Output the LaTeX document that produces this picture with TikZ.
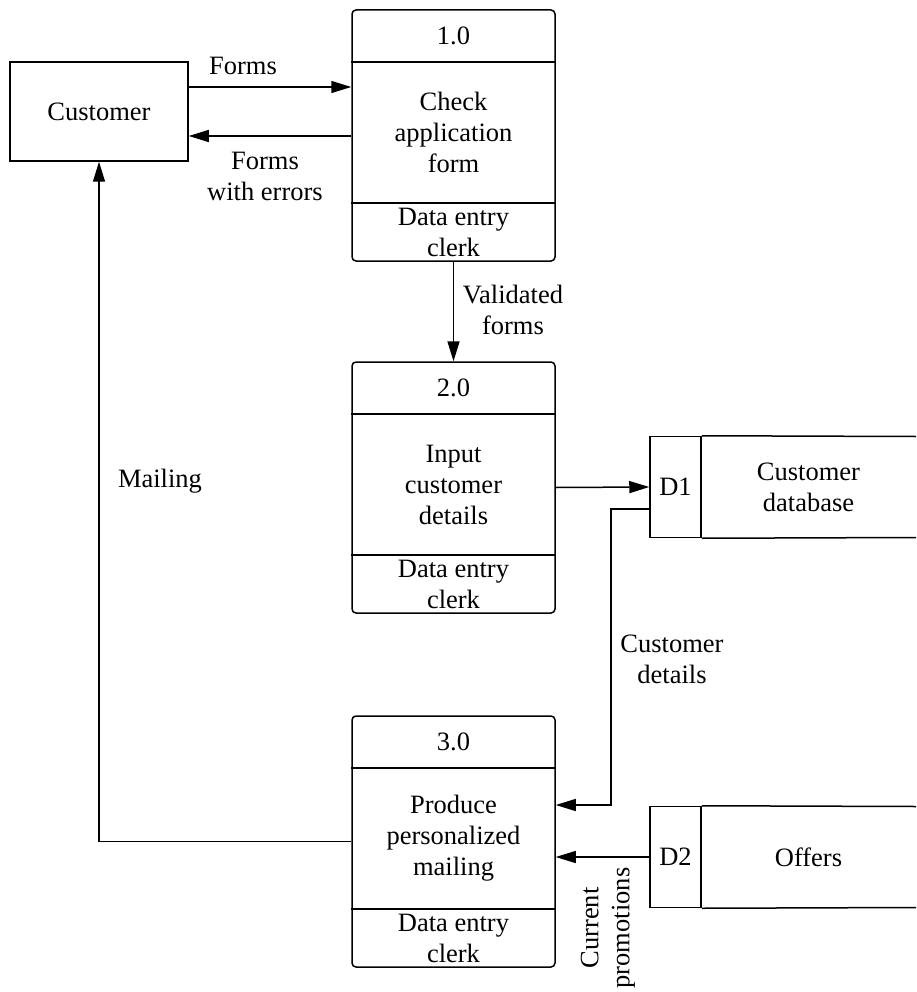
\documentclass[tikz,border=0pt]{standalone}
\usepackage{fontspec}
\setmainfont{Liberation Serif}
\usetikzlibrary{arrows.meta}
\tikzset{
  proc/.style={draw, rounded corners=4pt, minimum width=203pt, minimum height=251pt},
  storeid/.style={draw, minimum width=51pt, minimum height=101pt},
  ent/.style={draw, minimum width=178pt, minimum height=99pt},
  txt/.style={align=center, inner sep=0pt},
  flow/.style={-{Triangle[length=20pt,width=12pt]}},
}
\begin{document}
\begin{tikzpicture}[x=1pt, y=-1pt, line width=1.5pt, font=\fontsize{26.5}{31}\selectfont]
\useasboundingbox (0,0) rectangle (916,992);
% customer
\node[ent] (cust) at (99,111.5) {Customer};
% process 1.0
\node[proc] (p1) at (453.5,135.5) {};
\draw (p1.west |- 0,62) -- (p1.east |- 0,62);
\draw (p1.west |- 0,203) -- (p1.east |- 0,203);
\node[txt] (p1id) at (453.5,36) {1.0};
\node[txt] (p1name) at (453.5,132.5) {Check\\application\\form};
\node[txt] (p1who) at (453.5,232) {Data entry\\clerk};
% process 2.0
\node[proc] (p2) at (453.5,487.5) {};
\draw (p2.west |- 0,414) -- (p2.east |- 0,414);
\draw (p2.west |- 0,555) -- (p2.east |- 0,555);
\node[txt] (p2id) at (453.5,388) {2.0};
\node[txt] (p2name) at (453.5,484.5) {Input\\customer\\details};
\node[txt] (p2who) at (453.5,584) {Data entry\\clerk};
% process 3.0
\node[proc] (p3) at (453.5,841.5) {};
\draw (p3.west |- 0,768) -- (p3.east |- 0,768);
\draw (p3.west |- 0,909) -- (p3.east |- 0,909);
\node[txt] (p3id) at (453.5,742) {3.0};
\node[txt] (p3name) at (453.5,838.5) {Produce\\personalized\\mailing};
\node[txt] (p3who) at (453.5,938) {Data entry\\clerk};
% data stores
\node[storeid] (d1) at (675.5,487) {D1};
\draw (d1.north east) -- (916,436.5);
\draw (d1.south east) -- (916,537.5);
\node[txt] (d1name) at (808.5,487) {Customer\\database};
\node[storeid] (d2) at (675.5,857) {D2};
\draw (d2.north east) -- (916,806.5);
\draw (d2.south east) -- (916,907.5);
\node[txt] (d2name) at (808.5,857) {Offers};
% flows
\draw[flow] (cust.east |- 0,87) -- (p1.west |- 0,87);
\draw[flow] (p1.west |- 0,136) -- (cust.east |- 0,136);
\draw[flow] (p1.south) -- (p2.north);
\draw[flow] (p2.east) -- (d1.west);
\coordinate (bend) at (611,805);
\draw[flow] (d1.west |- 0,509) -| (bend) -- (bend -| p3.east);
\draw[flow] (d2.west) -- (d2.west -| p3.east);
\draw[flow] (p3.west) -| (cust.south);
% flow labels
\node[txt] (lforms) at (243,66) {Forms};
\node[txt] (lerrors) at (265,176) {Forms\\with errors};
\node[txt] (lvalid) at (513,310) {Validated\\forms};
\node[txt] (lmail) at (160,481) {Mailing};
\node[txt] (ldetails) at (672,659) {Customer\\details};
\node[txt, rotate=90] (lpromo) at (608,928) {Current\\promotions};
\end{tikzpicture}
\end{document}
